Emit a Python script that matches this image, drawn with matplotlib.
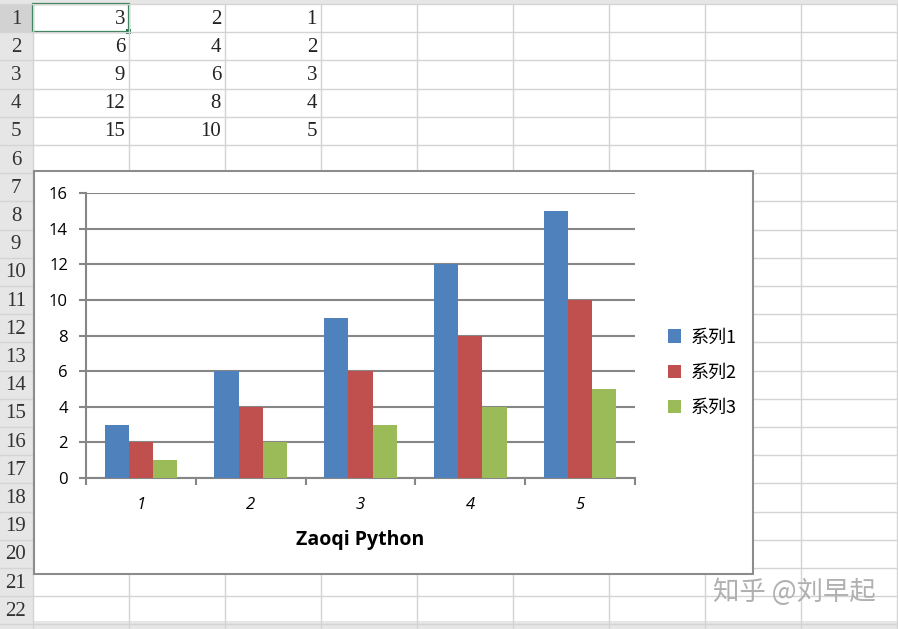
import matplotlib.pyplot as plt
from matplotlib.patches import Rectangle

# spreadsheet data (also the chart data)
categories = [1, 2, 3, 4, 5]
series1 = [3, 6, 9, 12, 15]
series2 = [2, 4, 6, 8, 10]
series3 = [1, 2, 3, 4, 5]
series_names = ['系列1', '系列2', '系列3']
colors = ['#4F81BD', '#C0504D', '#9BBB59']
y_ticks = [0, 2, 4, 6, 8, 10, 12, 14, 16]

W, H = 898, 629
fig = plt.figure(figsize=(W / 100, H / 100), dpi=100)

# sheet background in pixel coordinates
bg = fig.add_axes([0, 0, 1, 1])
bg.set_xlim(0, W)
bg.set_ylim(H, 0)
bg.axis('off')

col_x = [33 + 96 * i for i in range(10)]
row_top = 4
row_h = 28.2
n_rows = 22
row_y = [row_top + row_h * i for i in range(n_rows + 1)]

# header strip and row header
bg.add_patch(Rectangle((0, 0), W, row_top, color='#E6E6E6', lw=0))
bg.add_patch(Rectangle((0, 0), 33, H, color='#E6E6E6', lw=0))
bg.add_patch(Rectangle((0, row_y[0]), 33, row_h, color='#D2D2D2', lw=0))
for x in col_x:
    bg.plot([x, x], [row_top, H], color='#D4D4D4', lw=1)
for y in row_y:
    bg.plot([0, W], [y, y], color='#D4D4D4', lw=1)
for i in range(n_rows):
    bg.text(16, row_y[i] + row_h / 2 + 1, str(i + 1), ha='center', va='center',
            fontsize=15, family='Liberation Serif', color='#333333')

cols = [series1, series2, series3]
for c, vals in enumerate(cols):
    for r, v in enumerate(vals):
        bg.text(col_x[c + 1] - 4, row_y[r] + row_h / 2 + 1, str(v), ha='right',
                va='center', fontsize=15, family='Liberation Serif', color='#222222')
# selected cell
bg.add_patch(Rectangle((col_x[0], row_y[0]), 96, row_h, fill=False, ec='#217346', lw=1.6))
bg.add_patch(Rectangle((col_x[1] - 3, row_y[1] - 3), 5, 5, color='#217346', lw=0))

# bottom sheet tab bar
bg.add_patch(Rectangle((0, 621), W, 8, color='#E6E6E6', lw=0))

# chart area
bg.add_patch(Rectangle((34, 171), 719, 403, facecolor='white', edgecolor='#8C8C8C', lw=1.5, zorder=3))

ax = fig.add_axes([86 / W, 1 - 478 / H, (635 - 86) / W, (478 - 193) / H], zorder=5)
ax.set_facecolor('none')
w = 0.22
for k, vals in enumerate(cols):
    ax.bar([c + (k - 1) * w for c in categories], vals, width=w, color=colors[k],
           label=series_names[k], zorder=3)
ax.set_xlim(0.5, 5.5)
ax.set_ylim(0, 16)
ax.set_yticks(y_ticks)
ax.yaxis.grid(True, color='#868686', lw=1.5)
ax.set_axisbelow(True)
for s in ['top', 'right']:
    ax.spines[s].set_visible(False)
for s in ['left', 'bottom']:
    ax.spines[s].set_color('#868686')
    ax.spines[s].set_linewidth(1.5)
ax.tick_params(axis='y', length=5, width=1.5, color='#868686', labelsize=12, pad=8)
ax.set_xticks([c + 0.5 for c in [0] + categories])
ax.set_xticklabels([])
ax.tick_params(axis='x', length=5, width=1.5, color='#868686')
ax.set_xticks(categories, minor=True)
ax.set_xticklabels([str(c) for c in categories], minor=True, style='italic', fontsize=12)
ax.tick_params(axis='x', which='minor', length=0, pad=14)
for t in ax.get_yticklabels() + ax.get_xticklabels(minor=True):
    t.set_family('Open Sans')
ax.set_xlabel('Zaoqi Python', fontsize=14, fontweight='bold', family='Open Sans', labelpad=12)

leg = ax.legend(loc='center left', bbox_to_anchor=(1.03, 0.37), frameon=False,
                prop={'family': ['Noto Sans CJK SC', 'DejaVu Sans'], 'size': 13},
                handlelength=0.75, handleheight=0.75, labelspacing=0.95, handletextpad=0.5)

# watermark
bg.text(876, 592, '知乎 @刘早起', ha='right', va='center', fontsize=19, color='#B0B0B0',
        family=['Noto Sans CJK SC', 'DejaVu Sans'], zorder=10)

fig.savefig('out.png', dpi=100)
